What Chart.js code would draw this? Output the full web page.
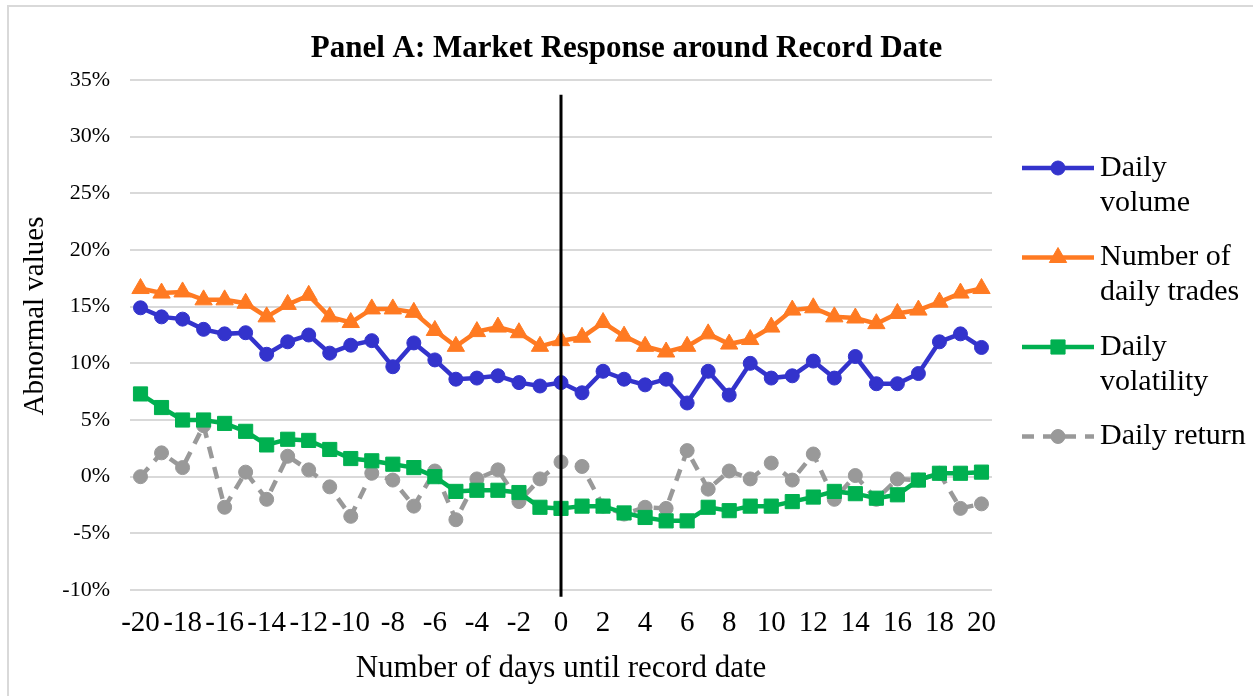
<!DOCTYPE html>
<html lang="en">
<head>
    <meta charset="UTF-8">
    <title>Panel A: Market Response around Record Date</title>
    <script src="https://cdn.jsdelivr.net/npm/chart.js@4.4.1/dist/chart.umd.min.js"></script>
    <style>
        body {
            margin: 0;
            background-color: #fff;
        }
        #wrap {
            position: relative;
            width: 1253px;
            height: 696px;
            overflow: hidden;
        }
        #wrap canvas {
            position: absolute;
            left: 0;
            top: 0;
        }
        #frame {
            position: absolute;
            left: 7px;
            top: 5px;
            right: -4px;
            bottom: -4px;
            border-left: 2px solid #d9d9d9;
            border-top: 2px solid #d9d9d9;
            pointer-events: none;
        }
    </style>
</head>
<body>
    <div id="wrap">
        <canvas id="chart" width="1253" height="696"></canvas>
        <div id="frame"></div>
    </div>

    <script>
        const days = ['-20', '-19', '-18', '-17', '-16', '-15', '-14', '-13', '-12', '-11',
                      '-10', '-9', '-8', '-7', '-6', '-5', '-4', '-3', '-2', '-1',
                      '0', '1', '2', '3', '4', '5', '6', '7', '8', '9', '10',
                      '11', '12', '13', '14', '15', '16', '17', '18', '19', '20'];

        // abnormal values in percent
        const dailyVolume = [14.9, 14.1, 13.9, 13.0, 12.6, 12.7, 10.8, 11.9, 12.5, 10.9,
                             11.6, 12.0, 9.7, 11.8, 10.3, 8.6, 8.7, 8.9, 8.3, 8.0,
                             8.3, 7.4, 9.3, 8.6, 8.1, 8.6, 6.5, 9.3, 7.2, 10.0, 8.7,
                             8.9, 10.2, 8.7, 10.6, 8.2, 8.2, 9.1, 11.9, 12.6, 11.4];
        const dailyTrades = [16.6, 16.2, 16.3, 15.6, 15.6, 15.3, 14.1, 15.2, 16.0, 14.1,
                             13.6, 14.8, 14.8, 14.5, 12.9, 11.5, 12.8, 13.2, 12.7, 11.5,
                             12.0, 12.3, 13.6, 12.4, 11.5, 11.0, 11.5, 12.6, 11.7, 12.1, 13.2,
                             14.7, 14.9, 14.1, 14.0, 13.5, 14.4, 14.7, 15.4, 16.2, 16.6];
        const dailyVolatility = [7.3, 6.1, 5.0, 5.0, 4.7, 4.0, 2.8, 3.3, 3.2, 2.4,
                                 1.6, 1.4, 1.1, 0.8, 0.0, -1.3, -1.2, -1.2, -1.4, -2.7,
                                 -2.8, -2.6, -2.6, -3.2, -3.6, -3.9, -3.9, -2.7, -3.0, -2.6, -2.6,
                                 -2.2, -1.8, -1.3, -1.5, -1.9, -1.6, -0.3, 0.3, 0.3, 0.4];
        const dailyReturn = [0.0, 2.1, 0.8, 4.5, -2.7, 0.4, -2.0, 1.8, 0.6, -0.9,
                             -3.5, 0.3, -0.3, -2.6, 0.5, -3.8, -0.2, 0.6, -2.2, -0.2,
                             1.3, 0.9, -2.6, -3.3, -2.7, -2.8, 2.3, -1.1, 0.5, -0.2, 1.2,
                             -0.3, 2.0, -2.0, 0.1, -2.0, -0.2, -0.3, 0.3, -2.8, -2.4];

        const legendLabels = [['Daily', 'volume'], ['Number of', 'daily trades'], ['Daily', 'volatility'], ['Daily return']];
        const yTitle = 'Abnormal values';
        const serif = '"Liberation Serif", "Times New Roman", serif';

        function series(label, data, color, style, radius, dash) {
            return {
                label: label,
                data: data,
                borderColor: color,
                backgroundColor: color,
                borderWidth: 4.5,
                borderDash: dash || [],
                pointStyle: style,
                pointRadius: radius,
                pointBackgroundColor: color,
                pointBorderColor: color,
                pointBorderWidth: 1,
                tension: 0
            };
        }

        // vertical marker at day 0
        const recordLine = {
            id: 'recordLine',
            afterDatasetsDraw(chart) {
                const x = chart.scales.x.getPixelForValue(days.indexOf('0'));
                const y = chart.scales.y;
                const ctx = chart.ctx;
                ctx.save();
                ctx.strokeStyle = '#000';
                ctx.lineWidth = 3;
                ctx.beginPath();
                ctx.moveTo(x, y.getPixelForValue(33.7));
                ctx.lineTo(x, y.getPixelForValue(-10.6));
                ctx.stroke();
                ctx.restore();
            }
        };

        // y title sits a bit above the middle of the axis, so it is drawn here
        const sideTitle = {
            id: 'sideTitle',
            afterDraw(chart) {
                const ctx = chart.ctx;
                ctx.save();
                ctx.translate(35, 316);
                ctx.rotate(-Math.PI / 2);
                ctx.font = '29px ' + serif;
                ctx.fillStyle = '#000';
                ctx.textAlign = 'center';
                ctx.textBaseline = 'middle';
                ctx.fillText(yTitle, 0, 0);
                ctx.restore();
            }
        };

        // legend with wrapped labels on the right
        const sideLegend = {
            id: 'sideLegend',
            afterDraw(chart) {
                const ctx = chart.ctx;
                const x0 = chart.chartArea.right + 30;
                let y = 168;
                ctx.save();
                ctx.font = '30px ' + serif;
                ctx.textBaseline = 'middle';
                chart.data.datasets.forEach((ds, i) => {
                    ctx.strokeStyle = ds.borderColor;
                    ctx.fillStyle = ds.borderColor;
                    ctx.lineWidth = ds.borderWidth;
                    ctx.setLineDash(ds.borderDash);
                    ctx.beginPath();
                    ctx.moveTo(x0, y);
                    ctx.lineTo(x0 + 72, y);
                    ctx.stroke();
                    ctx.setLineDash([]);
                    ctx.lineWidth = 1;
                    Chart.helpers.drawPoint(ctx, {pointStyle: ds.pointStyle, radius: ds.pointRadius, rotation: 0, borderWidth: 1}, x0 + 36, y);
                    ctx.fillStyle = '#000';
                    legendLabels[i].forEach((line, k) => {
                        ctx.fillText(line, x0 + 78, y + k * 35);
                    });
                    y += legendLabels[i].length * 35 + 19.5;
                });
                ctx.restore();
            }
        };

        new Chart(document.getElementById('chart'), {
            type: 'line',
            data: {
                labels: days,
                datasets: [
                    series('Daily volume', dailyVolume, '#3333cc', 'circle', 7),
                    series('Number of daily trades', dailyTrades, '#ff7a22', 'triangle', 10),
                    series('Daily volatility', dailyVolatility, '#00b050', 'rect', 10),
                    series('Daily return', dailyReturn, '#999999', 'circle', 7, [12, 9])
                ]
            },
            options: {
                responsive: false,
                animation: false,
                layout: {padding: 0},
                plugins: {
                    legend: {display: false},
                    tooltip: {enabled: false},
                    title: {
                        display: true,
                        text: 'Panel A: Market Response around Record Date',
                        color: '#000',
                        font: {family: serif, size: 31, weight: 'bold', lineHeight: 1.2},
                        padding: {top: 30, bottom: 12.8}
                    }
                },
                scales: {
                    x: {
                        type: 'category',
                        offset: true,
                        grid: {display: false, drawTicks: false},
                        border: {display: false},
                        ticks: {
                            autoSkip: false,
                            maxRotation: 0,
                            padding: 16,
                            color: '#000',
                            font: {family: serif, size: 29},
                            callback: (v, i) => (i % 2 === 0 ? days[i] : '')
                        },
                        title: {
                            display: true,
                            text: 'Number of days until record date',
                            color: '#000',
                            font: {family: serif, size: 31, lineHeight: 1.2},
                            padding: {top: 0, bottom: 9}
                        },
                        afterFit: (scale) => { scale.height = 106; }
                    },
                    y: {
                        min: -10,
                        max: 35,
                        grid: {color: '#d9d9d9', lineWidth: 2, drawTicks: false},
                        border: {display: false},
                        ticks: {
                            stepSize: 5,
                            padding: 20,
                            color: '#000',
                            font: {family: serif, size: 22},
                            callback: (v) => v + '%'
                        },
                        afterFit: (scale) => { scale.width = 130; }
                    },
                    legendSpace: {
                        position: 'right',
                        display: true,
                        grid: {display: false, drawTicks: false},
                        border: {display: false},
                        ticks: {display: false},
                        afterFit: (scale) => { scale.width = 261; }
                    }
                }
            },
            plugins: [recordLine, sideTitle, sideLegend]
        });
    </script>
</body>
</html>
